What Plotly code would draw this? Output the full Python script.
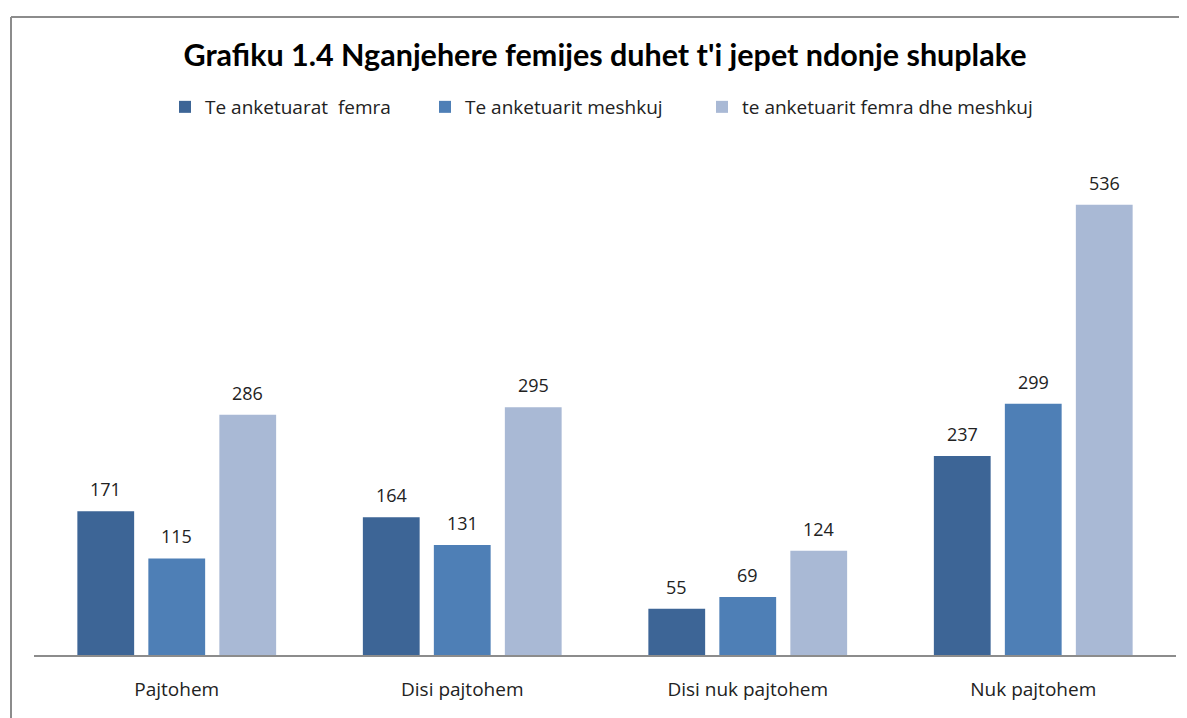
import plotly.graph_objects as go

categories = ["Pajtohem", "Disi pajtohem", "Disi nuk pajtohem", "Nuk pajtohem"]
series_names = ["Te anketuarat  femra", "Te anketuarit meshkuj", "te anketuarit femra dhe meshkuj"]
femra = [171, 164, 55, 237]
meshkuj = [115, 131, 69, 299]
totali = [286, 295, 124, 536]
colors = ["#3D6596", "#4E7FB6", "#A9B9D5"]

# page body adds an 8px margin; figure coordinates are screen minus 8
W, H = 1179, 710
ml, mr, mt, mb = 26, 11, 143, 63
pw, ph = W - ml - mr, H - mt - mb
BARGAP = 0.254
legend_left = [157, 417, 694]
legend_ids = ["legend", "legend2", "legend3"]

def px(x):
    return (x - ml) / pw

def py(y):
    return (H - mb - y) / ph

fig = go.Figure()
slot = (1 - BARGAP) * (pw / len(categories)) / 3
annotations = []
for i, (name, vals, col) in enumerate(zip(series_names, [femra, meshkuj, totali], colors)):
    fig.add_trace(go.Bar(
        x=categories, y=vals, name=name, marker_color=col, marker_line_width=0,
        legend=legend_ids[i], showlegend=True,
    ))
    for c, v in zip(categories, vals):
        annotations.append(dict(
            x=c, y=v, xref="x", yref="y", text=str(v), showarrow=False,
            xshift=(i - 1) * slot, yshift=22, yanchor="middle",
            font=dict(size=18, color="#222", family="Open Sans"),
        ))

legend_style = dict(orientation="h", xanchor="left", y=py(99), yanchor="middle",
                    font=dict(size=19, color="#222", family="Open Sans"),
                    itemwidth=30, bgcolor="rgba(0,0,0,0)")

fig.update_layout(
    width=W, height=H, autosize=False, showlegend=True,
    margin=dict(l=ml, r=mr, t=mt, b=mb),
    paper_bgcolor="white", plot_bgcolor="white",
    barmode="group", bargap=BARGAP, bargroupgap=0.2,
    font=dict(family="Open Sans", color="#222"),
    title=dict(text="<b>Grafiku 1.4 Nganjehere femijes duhet t'i jepet ndonje shuplake</b>",
               x=px(597), xanchor="center", xref="paper", y=1 - 47 / H, yanchor="middle",
               font=dict(size=30.5, color="#000", family="Lato")),
    legend=dict(x=px(legend_left[0]), **legend_style),
    legend2=dict(x=px(legend_left[1]), **legend_style),
    legend3=dict(x=px(legend_left[2]), **legend_style),
    xaxis=dict(showline=True, linecolor="#8c8c8c", linewidth=2, ticks="",
               tickfont=dict(size=19, color="#222", family="Open Sans"), ticklabelstandoff=16),
    yaxis=dict(range=[0, 600], visible=False, showgrid=False),
    annotations=annotations,
    shapes=[
        dict(type="line", xref="paper", yref="paper", x0=px(3), x1=px(W), y0=py(9), y1=py(9),
             line=dict(color="#8c8c8c", width=2)),
        dict(type="line", xref="paper", yref="paper", x0=px(3), x1=px(3), y0=py(9), y1=py(H),
             line=dict(color="#8c8c8c", width=2)),
    ],
)

fig.write_html("out.html")
